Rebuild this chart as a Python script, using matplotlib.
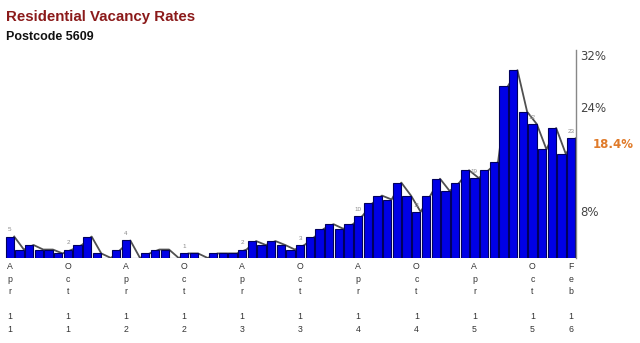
"""Residential vacancy rates for postcode 5609, monthly bars."""

import matplotlib
matplotlib.use('Agg')
import matplotlib.pyplot as plt
import matplotlib.transforms as mtransforms

plt.rcParams['font.family'] = ['Liberation Sans', 'DejaVu Sans']

# monthly vacancy rate (%), Apr 2011 .. Feb 2016
rates = [3.3, 1.3, 2.0, 1.3, 1.3, 0.7, 1.3, 2.0, 3.3, 0.7, 0.0, 1.3,
         2.7, 0.0, 0.7, 1.3, 1.3, 0.0, 0.7, 0.7, 0.0, 0.7, 0.7, 0.7,
         1.3, 2.6, 2.0, 2.6, 2.0, 1.3, 2.0, 3.2, 4.5, 5.2, 4.5, 5.2,
         6.5, 8.4, 9.6, 9.0, 11.6, 9.6, 7.1, 9.6, 12.2, 10.3, 11.6, 13.5,
         12.3, 13.5, 14.8, 26.4, 28.9, 22.5, 20.6, 16.7, 20.0, 16.0, 18.4]

tick_idx = [0, 6, 12, 18, 24, 30, 36, 42, 48, 54, 58]
tick_months = ['Apr', 'Oct', 'Apr', 'Oct', 'Apr', 'Oct', 'Apr', 'Oct', 'Apr', 'Oct', 'Feb']
tick_years = ['11', '11', '12', '12', '13', '13', '14', '14', '15', '15', '16']
counts = ['5', '2', '4', '1', '2', '3', '10', '11', '19', '12', '23']

y_ticks = [8, 24, 32]
latest = rates[-1]

fig = plt.figure(figsize=(6.4, 3.43), dpi=100)
W, H = 640, 343
ax = fig.add_axes([5 / W, 85 / H, 571 / W, 208 / H])

x = list(range(len(rates)))
# trend line sits behind the bars, joined at their right edges
ax.plot([i + 0.45 for i in x], rates, color='#505050', lw=1.3, zorder=1)
ax.bar(x, rates, width=0.86, color='#0000e6', edgecolor='#00005e',
       linewidth=0.8, zorder=2)

for i, c in zip(tick_idx, counts):
    ax.annotate(c, (i, rates[i]), xytext=(0, 3), textcoords='offset points',
                ha='center', va='bottom', fontsize=4.5, color='#8a8a8a')

ax.set_xlim(-0.5, len(rates) - 0.5)
ax.set_ylim(0, 32)

ax.set_xticks(tick_idx)
ax.set_xticklabels(['\n'.join(m) + '\n\n' + '\n'.join(y)
                    for m, y in zip(tick_months, tick_years)],
                   fontsize=6.3, color='#333333', linespacing=1.5)
ax.tick_params(axis='x', length=0, pad=3)

ax.yaxis.tick_right()
ax.set_yticks(y_ticks)
ax.set_yticklabels([f'{v}%' for v in y_ticks], fontsize=8.5, color='#444444',
                   family=['DejaVu Sans'])
for lab in ax.get_yticklabels():
    lab.set_va('top')
ax.tick_params(axis='y', length=0, pad=3)

for side in ['top', 'left', 'bottom']:
    ax.spines[side].set_visible(False)
ax.spines['right'].set_color('#888888')
ax.spines['right'].set_linewidth(1.0)

trans = mtransforms.blended_transform_factory(ax.transAxes, ax.transData)
ax.annotate(f'{latest}%', (1.0, latest), xycoords=trans, xytext=(17, 0),
            textcoords='offset pixels', va='top', ha='left', fontsize=8.5,
            fontweight='bold', color='#e07b2a', family=['DejaVu Sans'])

fig.text(6 / W, 1 - 17 / H, 'Residential Vacancy Rates', fontsize=10.8,
         fontweight='bold', color='#8b1a1a', va='center', ha='left')
fig.text(6 / W, 1 - 37 / H, 'Postcode 5609', fontsize=9,
         fontweight='bold', color='#111111', va='center', ha='left')

fig.savefig('out.png', dpi=100)
